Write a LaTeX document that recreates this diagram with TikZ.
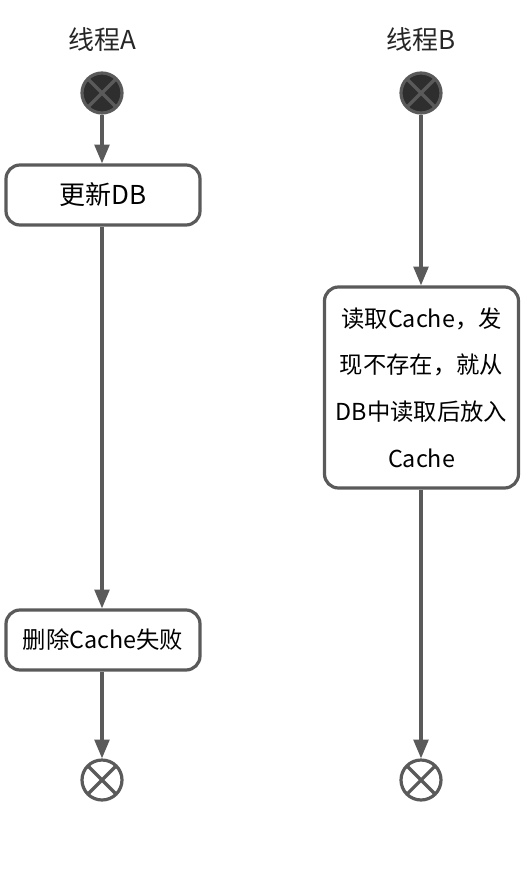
\documentclass[tikz,border=0pt]{standalone}
\usepackage{fontspec}
\setmainfont{Noto Sans CJK SC}
\usetikzlibrary{arrows.meta}
\definecolor{lc}{HTML}{5A5A5A}
\definecolor{sf}{HTML}{2E2E2E}
\tikzset{
  px/.style={x=0.75pt,y=-0.75pt},
  actbox/.style={draw=lc,line width=2.4pt,rounded corners=10.5pt,fill=white,
    minimum width=145.5pt,inner sep=0pt,align=center,font=\fontsize{17.5}{35}\selectfont},
  xcircle/.style={circle,draw=lc,line width=2.4pt,minimum size=30pt,inner sep=0pt,
    path picture={\draw[lc,line width=2.4pt]
      (path picture bounding box.north west)--(path picture bounding box.south east)
      (path picture bounding box.north east)--(path picture bounding box.south west);}},
  startc/.style={xcircle,fill=sf},
  endc/.style={xcircle,fill=white},
  title/.style={font=\fontsize{19.5}{22}\selectfont,text=black!85},
  flow/.style={draw=lc,line width=2.4pt,-{Triangle[length=14pt,width=11pt]}}
}
\begin{document}
\begin{tikzpicture}[px]
\useasboundingbox (0,0) rectangle (528,873);
\node[title] (ta) at (102,40) {线程A};
\node[title] (tb) at (421,40) {线程B};
\node[startc] (sa) at (102,93) {};
\node[startc] (sb) at (421,93) {};
\node[actbox,minimum height=45pt,font=\fontsize{19.5}{22}\selectfont] (a1) at (103,195) {更新DB};
\node[actbox,minimum height=45pt] (a2) at (103,640) {删除Cache失败};
\node[actbox,minimum height=150.75pt] (b1) at (421.5,387.5) {读取Cache，发\\现不存在，就从\\DB中读取后放入\\Cache};
\node[endc] (ea) at (102,780) {};
\node[endc] (eb) at (421,780) {};
\draw[flow] (sa) -- (sa|-a1.north);
\draw[flow] (a1.south-|sa) -- (a2.north-|sa);
\draw[flow] (a2.south-|sa) -- (ea);
\draw[flow] (sb) -- (sb|-b1.north);
\draw[flow] (b1.south-|sb) -- (eb);
\end{tikzpicture}
\end{document}
